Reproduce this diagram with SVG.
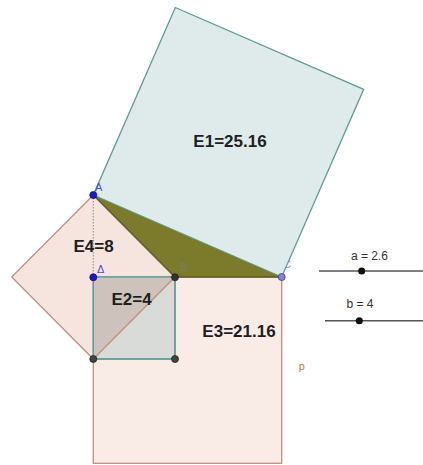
<svg xmlns="http://www.w3.org/2000/svg" width="423" height="465" viewBox="0 0 423 465">
<style>
.area{font-family:"Liberation Sans",Arial,sans-serif;font-weight:bold;font-size:17px;fill:#1e1e1e;text-anchor:middle}
.pl{font-family:"Liberation Sans",Arial,sans-serif;font-size:11px}
.sl{font-family:"Liberation Sans",Arial,sans-serif;font-size:12px;fill:#333;text-anchor:middle}
.brown{stroke:#c0907c;stroke-width:1.3}
.teal{stroke:#5f9a96;stroke-width:1.3}
.pt{stroke:#222;stroke-width:0.8}
</style>
<rect width="423" height="465" fill="#ffffff"/>
<text class="pl" x="283" y="268" fill="#8a8ae0">C</text>
<g id="square-E3">
<rect x="93.3" y="277" width="188.4" height="186.3" fill="#f9ece7" class="brown"/>
</g>
<g id="square-E4">
<polygon points="93.3,195 11.7,277 93.3,359 175,277" fill="#f6e5df" class="brown"/>
</g>
<g id="square-E2">
<rect x="93.3" y="277" width="81.7" height="82" fill="#d9dbd8" class="teal"/>
<polygon points="93.3,277 175,277 93.3,359" fill="#cec3bc"/>
<line x1="175" y1="277" x2="93.3" y2="359" class="brown"/>
<rect x="93.3" y="277" width="81.7" height="82" fill="none" class="teal"/>
</g>
<g id="triangle-ABC">
<polygon points="93.3,195 175,277 281.7,277" fill="#7b7b2b" stroke="#5e5e1c" stroke-width="1.3"/>
</g>
<g id="square-E1">
<polygon points="93.3,195 281.7,277 363.7,89.3 175.3,7.5" fill="#dde9ea" fill-opacity="0.95" class="teal"/>
</g>
<g id="connectors">
<line x1="93.3" y1="198" x2="93.3" y2="274" stroke="#999" stroke-width="1.2" stroke-dasharray="1.5,1.5"/>
</g>
<g id="labels">
<text class="area" x="230" y="146.5">E1=25.16</text>
<text class="area" x="93.5" y="251.5">E4=8</text>
<text class="area" x="131.5" y="305">E2=4</text>
<text class="area" x="239" y="336.5">E3=21.16</text>
<text class="pl" x="301.7" y="370" fill="#c8763e" text-anchor="middle">p</text>
<text class="pl" x="95" y="191" fill="#4a4ae0">A</text>
<text class="pl" x="97" y="273" fill="#4a4ae0">Δ</text>
<text class="pl" x="180" y="271" fill="#7a7a6a">B</text>
</g>
<g id="points">
<circle id="pt-A" cx="93.3" cy="195" r="3.5" fill="#1a1ad0" stroke="#0a0a80" stroke-width="0.8"/>
<circle id="pt-D" cx="93.3" cy="277.3" r="3.5" fill="#1a1ad0" stroke="#0a0a80" stroke-width="0.8"/>
<circle id="pt-B" cx="175" cy="277.3" r="3.5" fill="#333" class="pt"/>
<circle id="pt-C" cx="281.7" cy="277" r="3.5" fill="#8080e0" stroke="#3a3aa0" stroke-width="0.8"/>
<circle id="pt-E" cx="93.3" cy="359" r="3.5" fill="#444" class="pt"/>
<circle id="pt-F" cx="175" cy="359" r="3.5" fill="#444" class="pt"/>
</g>
<g id="slider-a">
<text class="sl" x="369.5" y="259.5">a = 2.6</text>
<line x1="319" y1="271" x2="423" y2="271" stroke="#555" stroke-width="1.4"/>
<circle cx="361.7" cy="271" r="3.5" fill="#111"/>
</g>
<g id="slider-b">
<text class="sl" x="360" y="308">b = 4</text>
<line x1="325" y1="320.7" x2="423" y2="320.7" stroke="#555" stroke-width="1.4"/>
<circle cx="359.3" cy="320.7" r="3.5" fill="#111"/>
</g>
</svg>
